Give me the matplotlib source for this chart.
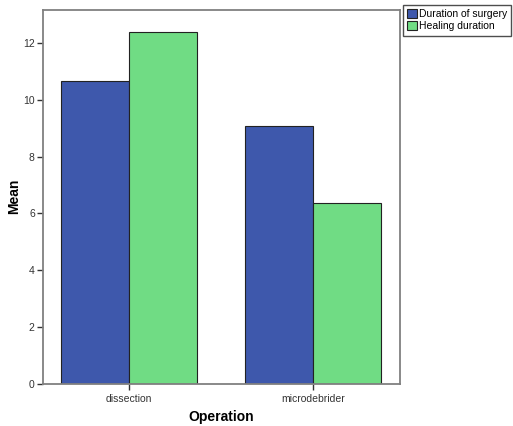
import numpy as np
import matplotlib.pyplot as plt

plt.rcParams['font.family'] = ['Liberation Sans', 'DejaVu Sans']

operations = ['dissection', 'microdebrider']
surgery_duration = [10.66, 9.08]
healing_duration = [12.40, 6.37]
series_names = ['Duration of surgery', 'Healing duration']
colors = ['#3e58ac', '#70dc84']

fig = plt.figure(figsize=(5.13, 4.26), dpi=100)
ax = fig.add_axes([0.084, 0.099, 0.696, 0.878])

x = np.arange(len(operations))
w = 0.37
ax.bar(x - w / 2, surgery_duration, w, color=colors[0], edgecolor='#222222',
       linewidth=0.8, label=series_names[0])
ax.bar(x + w / 2, healing_duration, w, color=colors[1], edgecolor='#222222',
       linewidth=0.8, label=series_names[1])

ax.set_xlim(-0.467, 1.473)
ax.set_ylim(0, 13.17)
ax.set_yticks([0, 2, 4, 6, 8, 10, 12])
ax.set_xticks(x)
ax.set_xticklabels(operations)
ax.tick_params(axis='both', labelsize=7.5, colors='#333333', length=4,
               width=1, pad=2)
ax.tick_params(axis='x', pad=3)
for s in ax.spines.values():
    s.set_color('#808080')
    s.set_linewidth(1.3)

ax.set_xlabel('Operation', fontsize=10, fontweight='bold', va='center')
ax.set_ylabel('Mean', fontsize=10, fontweight='bold', va='center')
ax.xaxis.set_label_coords(0.5, -0.088)
ax.yaxis.set_label_coords(-0.081, 0.5)

fig.legend(loc='upper left', bbox_to_anchor=(0.786, 0.988), fontsize=7.5,
           frameon=True, fancybox=False, edgecolor='#222222',
           handlelength=0.9, handleheight=0.9, handletextpad=0.2,
           borderpad=0.4, labelspacing=0.2, borderaxespad=0)

plt.savefig('out.png', dpi=100)
